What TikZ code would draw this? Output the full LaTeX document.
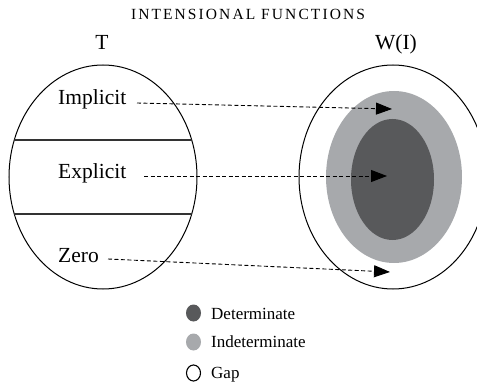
\documentclass[tikz,border=0pt]{standalone}
\usepackage{fontspec}
\setmainfont{Liberation Serif}
\newfontfamily\titlefont[LetterSpace=13.5]{Liberation Serif}
\usetikzlibrary{shapes.geometric,arrows.meta}
\definecolor{detcol}{RGB}{88,89,91}
\definecolor{indcol}{RGB}{167,169,172}
\tikzset{
  setshape/.style={ellipse, draw=black, line width=1pt, inner sep=0pt},
  blob/.style={ellipse, inner sep=0pt, draw=none},
  lbl/.style={font=\fontsize{21.5}{24}\selectfont, inner sep=0pt, anchor=base west},
  hdr/.style={font=\fontsize{21.5}{24}\selectfont, inner sep=0pt, anchor=base},
  leg/.style={font=\fontsize{17}{20}\selectfont, inner sep=0pt, anchor=base west},
  maparrow/.style={dashed, dash pattern=on 4pt off 2.5pt, line width=0.9pt, -{Triangle[length=16pt,width=12pt]}},
  divider/.style={line width=1.2pt, draw=black!80},
}
\begin{document}
\begin{tikzpicture}[x=1pt,y=-1pt]
\useasboundingbox (0,0) rectangle (477,385);
% title
\node[font=\titlefont\fontsize{15.5}{18}\selectfont, inner sep=0pt, anchor=base] (title) at (248,20) {INTENSIONAL FUNCTIONS};
% headers
\node[hdr] (Tlab) at (102,50) {T};
\node[hdr] (Wlab) at (396,50) {W(I)};
% left set
\node[setshape, minimum width=188pt, minimum height=224pt] (Tset) at (103,177) {};
\begin{scope}
  \clip (103,177) ellipse [x radius=94, y radius=112];
  \draw[divider] (0,140) -- (250,140);
  \draw[divider] (0,214) -- (250,214);
\end{scope}
% right set
\node[setshape, minimum width=188pt, minimum height=224pt] (Wset) at (393,177) {};
\node[blob, fill=indcol, minimum width=136pt, minimum height=172pt] (ind) at (394,177) {};
\node[blob, fill=detcol, minimum width=83pt, minimum height=121pt] (det) at (392.5,179.5) {};
% labels
\node[lbl] (imp) at (58,105) {Implicit};
\node[lbl] (exp) at (58,179) {Explicit};
\node[lbl] (zer) at (58,262) {Zero};
% arrow endpoints
\coordinate (impS) at (137,103);
\coordinate (impE) at (392,109);
\coordinate (expS) at (144,176);
\coordinate (expE) at (387,176);
\coordinate (zerS) at (108,259);
\coordinate (zerE) at (390,272);
\draw[maparrow] (impS) -- (impE);
\draw[maparrow] (expS) -- (expE);
\draw[maparrow] (zerS) -- (zerE);
% legend
\node[blob, fill=detcol, minimum width=15pt, minimum height=17pt] (ldet) at (193.5,313) {};
\node[blob, fill=indcol, minimum width=15pt, minimum height=17pt] (lind) at (193.5,342) {};
\node[ellipse, draw=black, line width=1.1pt, inner sep=0pt, minimum width=14pt, minimum height=16pt] (lgap) at (193.5,373) {};
\node[leg] (tdet) at (211,319) {Determinate};
\node[leg] (tind) at (211,347) {Indeterminate};
\node[leg] (tgap) at (211,378) {Gap};
\end{tikzpicture}
\end{document}
